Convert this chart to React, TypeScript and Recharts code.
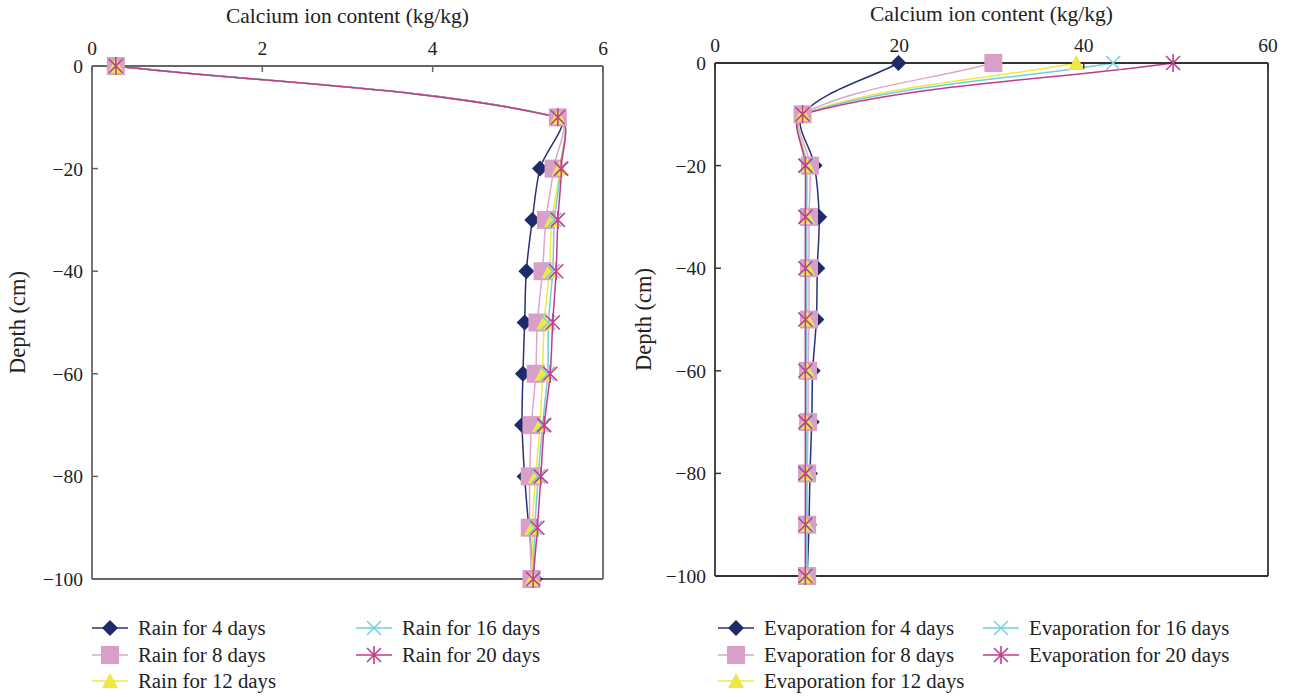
import React from "react";
import { LineChart, Line, XAxis, YAxis, ReferenceLine } from "recharts";

const depths = [0, -10, -20, -30, -40, -50, -60, -70, -80, -90, -100];

const rain4 = [0.28, 5.47, 5.26, 5.17, 5.1, 5.08, 5.06, 5.05, 5.08, 5.13, 5.2];
const rain8 = [0.28, 5.47, 5.42, 5.33, 5.29, 5.23, 5.21, 5.16, 5.14, 5.14, 5.16];
const rain12 = [0.28, 5.47, 5.49, 5.4, 5.37, 5.31, 5.29, 5.26, 5.21, 5.17, 5.17];
const rain16 = [0.28, 5.47, 5.5, 5.43, 5.41, 5.36, 5.35, 5.29, 5.24, 5.2, 5.18];
const rain20 = [0.28, 5.47, 5.51, 5.47, 5.45, 5.41, 5.38, 5.31, 5.27, 5.23, 5.18];

const evap4 = [19.9, 9.5, 10.8, 11.3, 11.1, 11.0, 10.6, 10.5, 10.3, 10.2, 10.0];
const evap8 = [30.2, 9.5, 10.3, 10.2, 10.2, 10.2, 10.1, 10.1, 10.0, 10.0, 10.0];
const evap12 = [39.2, 9.5, 10.0, 10.0, 10.0, 10.0, 10.0, 9.9, 9.9, 9.9, 9.9];
const evap16 = [43.2, 9.5, 9.9, 9.9, 9.9, 9.9, 9.9, 9.9, 9.9, 9.9, 9.9];
const evap20 = [49.7, 9.5, 9.8, 9.8, 9.8, 9.8, 9.8, 9.8, 9.8, 9.8, 9.8];

const leftTicks = [0, 2, 4, 6];
const rightTicks = [0, 20, 40, 60];
const depthTicks = [0, -20, -40, -60, -80, -100];

const FONT = "'Liberation Serif', 'DejaVu Serif', serif";

type Shape = "diamond" | "square" | "triangle" | "cross" | "star";

const styles: { shape: Shape; marker: string; line: string }[] = [
  { shape: "diamond", marker: "#1f2a68", line: "#27317a" },
  { shape: "square", marker: "#d8a0c8", line: "#dba6cf" },
  { shape: "triangle", marker: "#eee843", line: "#eee843" },
  { shape: "cross", marker: "#76d2dd", line: "#6fcfda" },
  { shape: "star", marker: "#c53d8f", line: "#c23a8c" },
];

const rainNames = ["Rain for 4 days", "Rain for 8 days", "Rain for 12 days", "Rain for 16 days", "Rain for 20 days"];
const evapNames = [
  "Evaporation for 4 days",
  "Evaporation for 8 days",
  "Evaporation for 12 days",
  "Evaporation for 16 days",
  "Evaporation for 20 days",
];

const rainRows = depths.map((depth, i) => ({
  depth,
  s0: rain4[i],
  s1: rain8[i],
  s2: rain12[i],
  s3: rain16[i],
  s4: rain20[i],
}));

const evapRows = depths.map((depth, i) => ({
  depth,
  s0: evap4[i],
  s1: evap8[i],
  s2: evap12[i],
  s3: evap16[i],
  s4: evap20[i],
}));

// smooth curve, tangents weighted by chord length so big jumps don't overshoot much
function smoothCurve(context: any) {
  let pts: [number, number][] = [];
  const dist = (a: [number, number], b: [number, number]) => Math.hypot(b[0] - a[0], b[1] - a[1]);
  return {
    areaStart() {},
    areaEnd() {},
    lineStart() {
      pts = [];
    },
    lineEnd() {
      if (!pts.length) return;
      context.moveTo(pts[0][0], pts[0][1]);
      for (let i = 0; i < pts.length - 1; i++) {
        const p0 = pts[i - 1] || pts[i];
        const p1 = pts[i];
        const p2 = pts[i + 1];
        const p3 = pts[i + 2] || p2;
        const d01 = dist(p0, p1);
        const d12 = dist(p1, p2);
        const d23 = dist(p2, p3);
        const k1 = d01 + d12 > 0 ? d12 / (d01 + d12) / 3 : 0;
        const k2 = d12 + d23 > 0 ? d12 / (d12 + d23) / 3 : 0;
        context.bezierCurveTo(
          p1[0] + (p2[0] - p0[0]) * k1,
          p1[1] + (p2[1] - p0[1]) * k1,
          p2[0] - (p3[0] - p1[0]) * k2,
          p2[1] - (p3[1] - p1[1]) * k2,
          p2[0],
          p2[1]
        );
      }
    },
    point(x: number, y: number) {
      pts.push([x, y]);
    },
  };
}

function Marker({ shape, color, cx, cy }: { shape: Shape; color: string; cx: number; cy: number }) {
  switch (shape) {
    case "diamond":
      return <polygon points={`${cx},${cy - 8} ${cx + 8},${cy} ${cx},${cy + 8} ${cx - 8},${cy}`} fill={color} />;
    case "square":
      return <rect x={cx - 9} y={cy - 9} width={18} height={18} fill={color} />;
    case "triangle":
      return <polygon points={`${cx},${cy - 8} ${cx + 8},${cy + 7} ${cx - 8},${cy + 7}`} fill={color} />;
    case "cross":
      return (
        <path
          d={`M${cx - 7},${cy - 7}L${cx + 7},${cy + 7}M${cx - 7},${cy + 7}L${cx + 7},${cy - 7}`}
          stroke={color}
          strokeWidth={1.6}
          fill="none"
        />
      );
    default:
      return (
        <path
          d={`M${cx - 7},${cy - 7}L${cx + 7},${cy + 7}M${cx - 7},${cy + 7}L${cx + 7},${cy - 7}M${cx},${cy - 9}L${cx},${cy + 9}`}
          stroke={color}
          strokeWidth={1.6}
          fill="none"
        />
      );
  }
}

const fmt = (v: number) => (v < 0 ? `\u2212${Math.abs(v)}` : `${v}`);

function DepthLabel({ viewBox, shift }: any) {
  const x = viewBox.x + shift;
  const y = viewBox.y + viewBox.height / 2;
  return (
    <text
      x={x}
      y={y}
      transform={`rotate(-90 ${x} ${y})`}
      textAnchor="middle"
      dominantBaseline="central"
      fontFamily={FONT}
      fontSize={22.5}
      fill="#222"
    >
      Depth (cm)
    </text>
  );
}

function ProfileChart({
  rows,
  names,
  xMax,
  xTicks,
  width,
  margin,
  yWidth,
  labelShift,
  titleOffset,
  axisColor,
}: {
  rows: any[];
  names: string[];
  xMax: number;
  xTicks: number[];
  width: number;
  margin: { top: number; right: number; bottom: number; left: number };
  yWidth: number;
  labelShift: number;
  titleOffset: number;
  axisColor: string;
}) {
  const tickStyle = { fontFamily: FONT, fontSize: 19.5, fill: "#222" };
  return (
    <LineChart width={width} height={697} data={rows} layout="vertical" margin={margin}>
      <XAxis
        type="number"
        orientation="top"
        domain={[0, xMax]}
        ticks={xTicks}
        height={36}
        tickSize={-6}
        tickMargin={17}
        tick={tickStyle}
        axisLine={{ stroke: axisColor, strokeWidth: 1.8 }}
        tickLine={{ stroke: axisColor, strokeWidth: 1.5 }}
        label={{
          value: "Calcium ion content (kg/kg)",
          position: "top",
          offset: titleOffset,
          style: { fontFamily: FONT, fontSize: 21.5, fill: "#222" },
        }}
      />
      <YAxis
        type="number"
        dataKey="depth"
        domain={[-100, 0]}
        reversed
        ticks={depthTicks}
        width={yWidth}
        tickSize={-6}
        tickMargin={15}
        tickFormatter={fmt}
        tick={tickStyle}
        axisLine={{ stroke: axisColor, strokeWidth: 1.8 }}
        tickLine={{ stroke: axisColor, strokeWidth: 1.5 }}
        label={{ content: (p: any) => <DepthLabel {...p} shift={labelShift} /> }}
      />
      <ReferenceLine x={xMax} stroke={axisColor} strokeWidth={1.8} ifOverflow="extendDomain" />
      <ReferenceLine y={-100} stroke={axisColor} strokeWidth={1.8} ifOverflow="extendDomain" />
      {styles.map((s, i) => (
        <Line
          key={names[i]}
          dataKey={`s${i}`}
          name={names[i]}
          type={smoothCurve as any}
          stroke={s.line}
          strokeWidth={1.5}
          isAnimationActive={false}
          dot={(p: any) => <Marker key={`${i}-${p.index}`} shape={s.shape} color={s.marker} cx={p.cx} cy={p.cy} />}
          activeDot={false}
        />
      ))}
    </LineChart>
  );
}

function LegendBlock({ names, left, col2 }: { names: string[]; left: number; col2: number }) {
  const rowsY = [628, 655, 681];
  const order = [
    { i: 0, x: 0, y: rowsY[0] },
    { i: 1, x: 0, y: rowsY[1] },
    { i: 2, x: 0, y: rowsY[2] },
    { i: 3, x: col2, y: rowsY[0] },
    { i: 4, x: col2, y: rowsY[1] },
  ];
  return (
    <>
      {order.map(({ i, x, y }) => {
        const s = styles[i];
        return (
          <div
            key={names[i]}
            style={{
              position: "absolute",
              left: left + x,
              top: y - 13,
              height: 26,
              display: "flex",
              alignItems: "center",
              fontFamily: FONT,
              fontSize: 20.8,
              color: "#222",
              whiteSpace: "nowrap",
            }}
          >
            <svg width={46} height={26} style={{ display: "block" }}>
              <line x1={0} y1={13} x2={36} y2={13} stroke={s.line} strokeWidth={1.5} />
              <Marker shape={s.shape} color={s.marker} cx={18} cy={13} />
            </svg>
            <span>{names[i]}</span>
          </div>
        );
      })}
    </>
  );
}

export default function App() {
  return (
    <div style={{ position: "absolute", left: 0, top: 0, width: 1290, height: 697, background: "#fff" }}>
      <div style={{ position: "absolute", left: 0, top: 0 }}>
        <ProfileChart
          rows={rainRows}
          names={rainNames}
          xMax={6}
          xTicks={leftTicks}
          width={640}
          margin={{ top: 30, right: 37, bottom: 118, left: 12 }}
          yWidth={80}
          labelShift={5}
          titleOffset={7}
          axisColor="#666"
        />
      </div>
      <div style={{ position: "absolute", left: 630, top: 0 }}>
        <ProfileChart
          rows={evapRows}
          names={evapNames}
          xMax={60}
          xTicks={rightTicks}
          width={660}
          margin={{ top: 27, right: 22, bottom: 121, left: 15 }}
          yWidth={70}
          labelShift={-2}
          titleOffset={6}
          axisColor="#333"
        />
      </div>
      <LegendBlock names={rainNames} left={92} col2={264} />
      <LegendBlock names={evapNames} left={718} col2={265} />
    </div>
  );
}
